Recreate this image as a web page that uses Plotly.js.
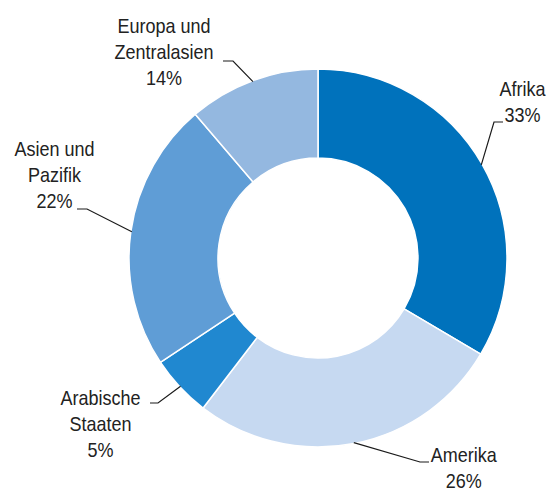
<!DOCTYPE html>
<html>
<head>
<meta charset="utf-8">
<script src="https://cdn.plot.ly/plotly-3.0.1.min.js"></script>
<style>html,body{margin:0;padding:0;background:#fff;}#chart{width:549px;height:492px;}</style>
</head>
<body>
<div id="chart"></div>
<script>
// Data
var regions = ["Afrika", "Amerika", "Arabische Staaten", "Asien und Pazifik", "Europa und Zentralasien"];
var shareLabels = ["33%", "26%", "5%", "22%", "14%"];
// slice sizes as drawn in the reference (angles)
var sliceValues = [33.5, 26.9, 5.3, 23.05, 11.25];
var labelNames = ["Afrika", "Amerika", "Arabische<br>Staaten", "Asien und<br>Pazifik", "Europa und<br>Zentralasien"];
var colors = ["#0072BC", "#C6D9F1", "#2088D0", "#5F9DD6", "#94B8E0"];

// Layout (pixels)
var W = 549, H = 492;
var cx = 318, cy = 258, R = 189;
// per label: text centre, elbow point, horizontal end
var labelCfg = [
  {tx: 523, ty: 102, ex: 494, ey: 122, hx: 503},
  {tx: 464, ty: 468, ex: 420, ey: 462, hx: 429},
  {tx: 100, ty: 424, ex: 158, ey: 403, hx: 150},
  {tx: 54,  ty: 175, ex: 87,  ey: 209, hx: 77},
  {tx: 164, ty: 52,  ex: 233, ey: 61,  hx: 223}
];

function px(x){ return x / W; }
function py(y){ return 1 - y / H; }

var total = sliceValues.reduce(function(a,b){return a+b;}, 0);
var shapes = [], annotations = [];
var cum = 0;
for (var i = 0; i < sliceValues.length; i++) {
  var mid = (cum + sliceValues[i] / 2) / total * 360;
  cum += sliceValues[i];
  var rad = mid * Math.PI / 180;
  var sx = cx + (R - 1) * Math.sin(rad), sy = cy - (R - 1) * Math.cos(rad);
  var c = labelCfg[i];
  shapes.push({
    type: "path", xref: "paper", yref: "paper",
    path: "M " + px(sx) + " " + py(sy) + " L " + px(c.ex) + " " + py(c.ey) + " L " + px(c.hx) + " " + py(c.ey),
    line: {color: "#1a1a1a", width: 1.2}
  });
  annotations.push({
    xref: "paper", yref: "paper", x: px(c.tx), y: py(c.ty),
    xanchor: "center", yanchor: "middle", showarrow: false,
    text: labelNames[i] + "<br>" + shareLabels[i], align: "center",
    font: {family: "Liberation Sans, Arial, sans-serif", size: 20, color: "#222222"}
  });
}

var trace = {
  type: "pie",
  labels: regions,
  values: sliceValues,
  hole: 0.529,
  sort: false,
  direction: "clockwise",
  rotation: 0,
  textinfo: "none",
  hoverinfo: "label",
  marker: {colors: colors, line: {color: "#ffffff", width: 1.5}},
  domain: {x: [px(cx - R), px(cx + R)], y: [py(cy + R), py(cy - R)]},
  showlegend: false
};

var layout = {
  width: W, height: H,
  margin: {l: 0, r: 0, t: 0, b: 0},
  paper_bgcolor: "#ffffff",
  showlegend: false,
  shapes: shapes,
  annotations: annotations
};

Plotly.newPlot("chart", [trace], layout, {displayModeBar: false, staticPlot: true}).then(function(){
  // condense label text horizontally (narrow font look)
  var texts = document.querySelectorAll("text.annotation-text");
  texts.forEach(function(t){
    var b = t.getBBox();
    var c = b.x + b.width / 2;
    t.setAttribute("transform", "translate(" + c + ",0) scale(0.9,1) translate(" + (-c) + ",0)");
  });
});
</script>
</body>
</html>
